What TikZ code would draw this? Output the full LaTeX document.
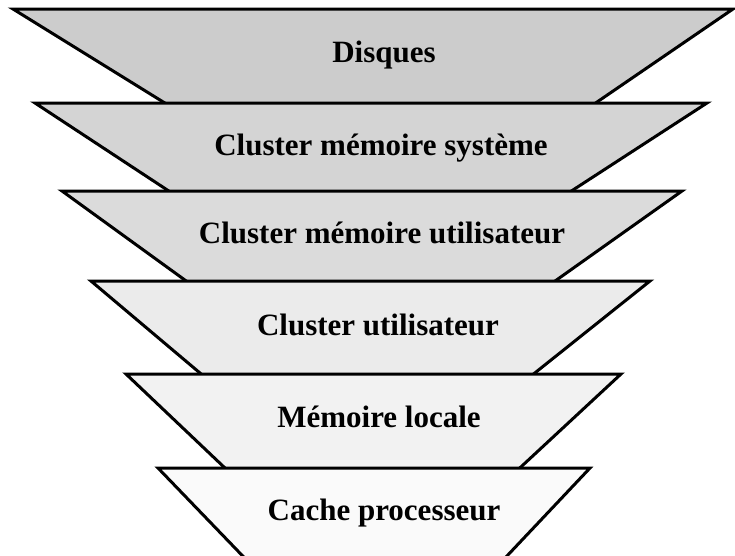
\documentclass[tikz,border=0pt]{standalone}
\usepackage{fontspec}
\setmainfont{Liberation Serif}
\begin{document}
\begin{tikzpicture}[x=1pt,y=-1pt,
  layer/.style={draw=black,line width=3pt,line join=miter},
  lbl/.style={anchor=base,font=\bfseries\fontsize{31}{36}\selectfont,inner sep=0pt}]
\useasboundingbox (0,0) rectangle (735,555);
\clip (0,0) rectangle (735,555);
\definecolor{g1}{gray}{0.80}
\definecolor{g2}{gray}{0.83}
\definecolor{g3}{gray}{0.86}
\definecolor{g4}{gray}{0.92}
\definecolor{g5}{gray}{0.95}
\definecolor{g6}{gray}{0.98}
\fill[white] (0,0) rectangle (735,555);
\draw[layer,fill=g1] (13,9) -- (733,9) -- (581,113) -- (181,113) -- cycle;
\draw[layer,fill=g2] (35,103) -- (707,103) -- (556,201) -- (184,201) -- cycle;
\draw[layer,fill=g3] (62,191) -- (682,191) -- (541,291) -- (200,291) -- cycle;
\draw[layer,fill=g4] (91,281) -- (650,281) -- (521,384) -- (213,384) -- cycle;
\draw[layer,fill=g5] (126,374) -- (621,374) -- (509,478) -- (235.5,478) -- cycle;
\draw[layer,fill=g6] (158,468) -- (590,468) -- (489,575) -- (261,575) -- cycle;
\node[lbl] (disques) at (384,62) {Disques};
\node[lbl] (cms) at (381,155) {Cluster mémoire système};
\node[lbl] (cmu) at (382,243) {Cluster mémoire utilisateur};
\node[lbl] (cu) at (378,335) {Cluster utilisateur};
\node[lbl] (ml) at (379,427) {Mémoire locale};
\node[lbl] (cp) at (384,520) {Cache processeur};
\end{tikzpicture}
\end{document}
